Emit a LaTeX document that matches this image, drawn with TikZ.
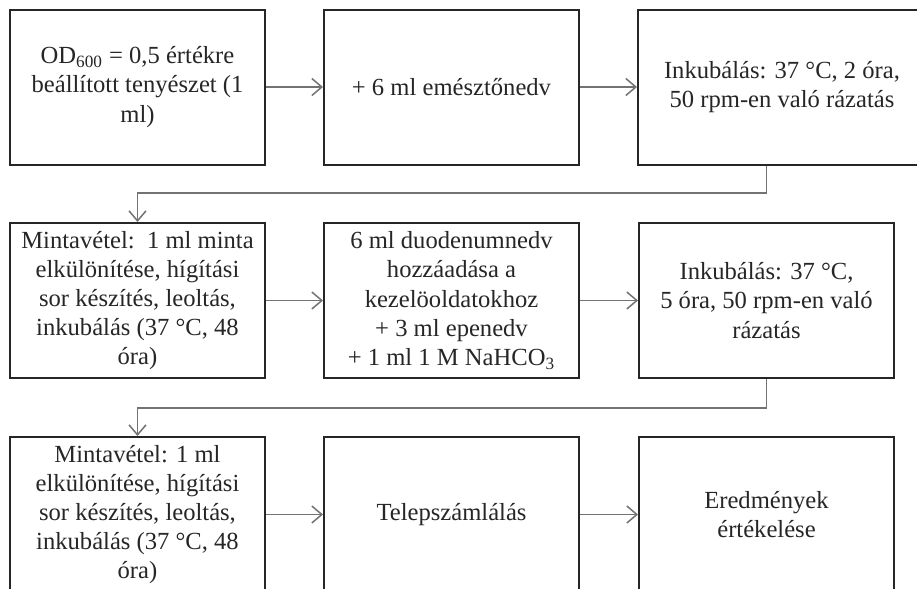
\documentclass[tikz,border=0pt]{standalone}
\usepackage{fontspec}
\setmainfont{Liberation Serif}
\usetikzlibrary{arrows.meta}
\tikzset{
  box/.style={draw=black!85, line width=1pt, minimum width=127.5pt, minimum height=77.5pt,
    inner sep=0pt, align=center, font=\fontsize{12.3}{14.6}\selectfont, text=black!85},
  arr/.style={draw=black!55, line width=0.75pt, -{Straight Barb[length=5pt,width=8.5pt,line width=0.75pt]}}
}
\begin{document}
\begin{tikzpicture}[x=0.5pt,y=-0.5pt]
\useasboundingbox (0,0) rectangle (917,589);
\clip (0,0) rectangle (917,589);
\fill[white] (0,0) rectangle (917,589);
% row 1
\node[box] (b1) at (137.5,87) {OD\textsubscript{600} = 0,5 értékre\\beállított tenyészet (1\\ml)};
\node[box] (b2) at (451.5,87) {+ 6 ml emésztőnedv};
\node[box, minimum width=144pt] (b3) at (782,87) {Inkubálás: 37 °C, 2 óra,\\50 rpm-en való rázatás};
% row 2
\node[box] (b4) at (137.5,300.5) {Mintavétel:\ \ 1 ml minta\\elkülönítése, hígítási\\sor készítés, leoltás,\\inkubálás (37 °C, 48\\óra)};
\node[box] (b5) at (451.5,300.5) {6 ml duodenumnedv\\hozzáadása a\\kezelöoldatokhoz\\+ 3 ml epenedv\\+ 1 ml 1 M NaHCO\textsubscript{3}};
\node[box] (b6) at (766.5,300.5) {Inkubálás: 37 °C,\\5 óra, 50 rpm-en való\\rázatás};
% row 3
\node[box] (b7) at (137.5,514.5) {Mintavétel: 1 ml\\elkülönítése, hígítási\\sor készítés, leoltás,\\inkubálás (37 °C, 48\\óra)};
\node[box] (b8) at (451.5,514.5) {Telepszámlálás};
\node[box] (b9) at (766.5,514.5) {Eredmények\\értékelése};
% turning points
\coordinate (c1) at (766.5,193);
\coordinate (c2) at (766.5,408);
% connectors
\draw[arr] (b1) -- (b2);
\draw[arr] (b2) -- (b3.west |- b2);
\draw[arr] (b3.south -| c1) -- (c1) -| (b4.north);
\draw[arr] (b4) -- (b5);
\draw[arr] (b5) -- (b6);
\draw[arr] (b6.south) -- (c2) -| (b7.north);
\draw[arr] (b7) -- (b8);
\draw[arr] (b8) -- (b9);
\end{tikzpicture}
\end{document}
